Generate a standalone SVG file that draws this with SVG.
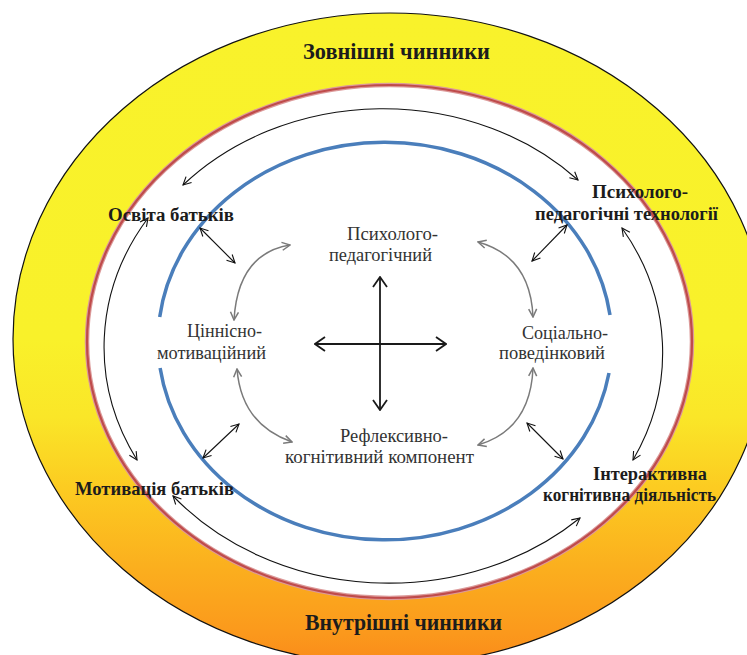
<svg xmlns="http://www.w3.org/2000/svg" width="747" height="655" viewBox="0 0 747 655">
<defs>
  <linearGradient id="gOuter" x1="0" y1="0" x2="0" y2="1">
    <stop offset="0" stop-color="#F9F22B"/>
    <stop offset="0.5" stop-color="#F9F12A"/>
    <stop offset="0.62" stop-color="#FAE628"/>
    <stop offset="0.73" stop-color="#FCCB21"/>
    <stop offset="0.85" stop-color="#FBAF1E"/>
    <stop offset="0.95" stop-color="#FB991C"/>
    <stop offset="1" stop-color="#FA8A1A"/>
  </linearGradient>
  <marker id="aBlack" viewBox="0 0 10 10" refX="9" refY="5" markerWidth="10" markerHeight="10" markerUnits="userSpaceOnUse" orient="auto-start-reverse">
    <path d="M1,1 L9,5 L1,9" fill="none" stroke="#111" stroke-width="1.1"/>
  </marker>
  <marker id="aGray" viewBox="0 0 10 10" refX="9" refY="5" markerWidth="10" markerHeight="10" markerUnits="userSpaceOnUse" orient="auto-start-reverse">
    <path d="M1,1 L9,5 L1,9" fill="none" stroke="#7a7a7a" stroke-width="1.5"/>
  </marker>
  <marker id="aCross" viewBox="0 0 12 16" refX="11" refY="8" markerWidth="12" markerHeight="16" markerUnits="userSpaceOnUse" orient="auto-start-reverse">
    <path d="M1,1 L11,8 L1,15" fill="none" stroke="#1a1a1a" stroke-width="1.8"/>
  </marker>
</defs>
<style>
  .bold { font-family: "Liberation Serif", "Times New Roman", serif; font-weight: bold; fill: #1c1c1c; font-size: 18px; }
  .head { font-family: "Liberation Serif", "Times New Roman", serif; font-weight: bold; fill: #1c1c1c; font-size: 23px; }
  .inner { font-family: "Liberation Serif", "Times New Roman", serif; fill: #333; font-size: 18px; }
  .blk { fill: none; stroke: #111; stroke-width: 1.1; marker-start: url(#aBlack); marker-end: url(#aBlack); }
  .gry { fill: none; stroke: #7a7a7a; stroke-width: 1.5; marker-start: url(#aGray); marker-end: url(#aGray); }
  .crs { fill: none; stroke: #1a1a1a; stroke-width: 1.8; marker-start: url(#aCross); marker-end: url(#aCross); }
  .blue { fill: none; stroke: #4a7ebb; stroke-width: 3.5; }
</style>

<g id="outer-ring">
  <ellipse cx="390" cy="339" rx="377" ry="326" fill="url(#gOuter)" stroke="#111" stroke-width="1.2"/>
  <ellipse cx="389.5" cy="341.5" rx="302.5" ry="256.5" fill="#fff" stroke="#dc9a9a" stroke-width="4.5"/>
  <ellipse cx="389.5" cy="341.5" rx="302.5" ry="256.5" fill="none" stroke="#bf4b4b" stroke-width="2.2"/>
</g>

<g id="inner-ring">
  <path class="blue" d="M159.7,317 A227,199 0 0 1 610,315"/>
  <path class="blue" d="M609,373 A227,199 0 0 1 160.1,368"/>
</g>

<g id="connectors">
  <path class="blk" d="M183,185 A271,234 0 0 1 578,180"/>
  <path class="blk" d="M148,218 A280,240 0 0 0 137,460"/>
  <path class="blk" d="M622,228 A280,240 0 0 1 633,460"/>
  <path class="blk" d="M173,496 A280,241 0 0 0 580,518"/>
  <path class="blk" d="M200,228 L235,263"/>
  <path class="blk" d="M203,458 L239,424"/>
  <path class="blk" d="M567,225 L532,261"/>
  <path class="blk" d="M527,423 L563,459"/>
  <path class="gry" d="M290,245 Q238,253.5 234,320"/>
  <path class="gry" d="M237,369 Q241.5,424.5 292,442"/>
  <path class="gry" d="M478,242 Q530.5,256.5 533,317"/>
  <path class="gry" d="M533,368 Q530.5,429.5 478,445"/>
  <path class="crs" d="M315,344 L446,344"/>
  <path class="crs" d="M380,277 L380,410"/>
</g>

<g id="external-factors">
  <text class="head" x="303" y="59" textLength="187" lengthAdjust="spacingAndGlyphs">Зовнішні чинники</text>
</g>
<g id="internal-factors">
  <text class="head" x="305" y="630" textLength="197" lengthAdjust="spacingAndGlyphs">Внутрішні чинники</text>
</g>
<g id="parents-education">
  <text class="bold" x="108" y="221" textLength="126" lengthAdjust="spacingAndGlyphs">Освіта батьків</text>
</g>
<g id="psych-ped-tech">
  <text class="bold" x="592" y="198" textLength="96" lengthAdjust="spacingAndGlyphs">Психолого-</text>
  <text class="bold" x="535" y="220" textLength="183" lengthAdjust="spacingAndGlyphs">педагогічні технології</text>
</g>
<g id="parents-motivation">
  <text class="bold" x="75" y="495" textLength="159" lengthAdjust="spacingAndGlyphs">Мотивація батьків</text>
</g>
<g id="interactive-activity">
  <text class="bold" x="593" y="480" textLength="114" lengthAdjust="spacingAndGlyphs">Інтерактивна</text>
  <text class="bold" x="543" y="501" textLength="173" lengthAdjust="spacingAndGlyphs">когнітивна діяльність</text>
</g>
<g id="psych-ped-component">
  <text class="inner" x="347" y="240" textLength="91" lengthAdjust="spacingAndGlyphs">Психолого-</text>
  <text class="inner" x="329" y="261" textLength="103" lengthAdjust="spacingAndGlyphs">педагогічний</text>
</g>
<g id="value-motivational">
  <text class="inner" x="187" y="337" textLength="75" lengthAdjust="spacingAndGlyphs">Ціннісно-</text>
  <text class="inner" x="157" y="359" textLength="109" lengthAdjust="spacingAndGlyphs">мотиваційний</text>
</g>
<g id="social-behavioral">
  <text class="inner" x="522" y="339" textLength="86" lengthAdjust="spacingAndGlyphs">Соціально-</text>
  <text class="inner" x="499" y="359" textLength="106" lengthAdjust="spacingAndGlyphs">поведінковий</text>
</g>
<g id="reflexive-cognitive">
  <text class="inner" x="340" y="442" textLength="108" lengthAdjust="spacingAndGlyphs">Рефлексивно-</text>
  <text class="inner" x="285" y="463" textLength="189" lengthAdjust="spacingAndGlyphs">когнітивний компонент</text>
</g>
</svg>
